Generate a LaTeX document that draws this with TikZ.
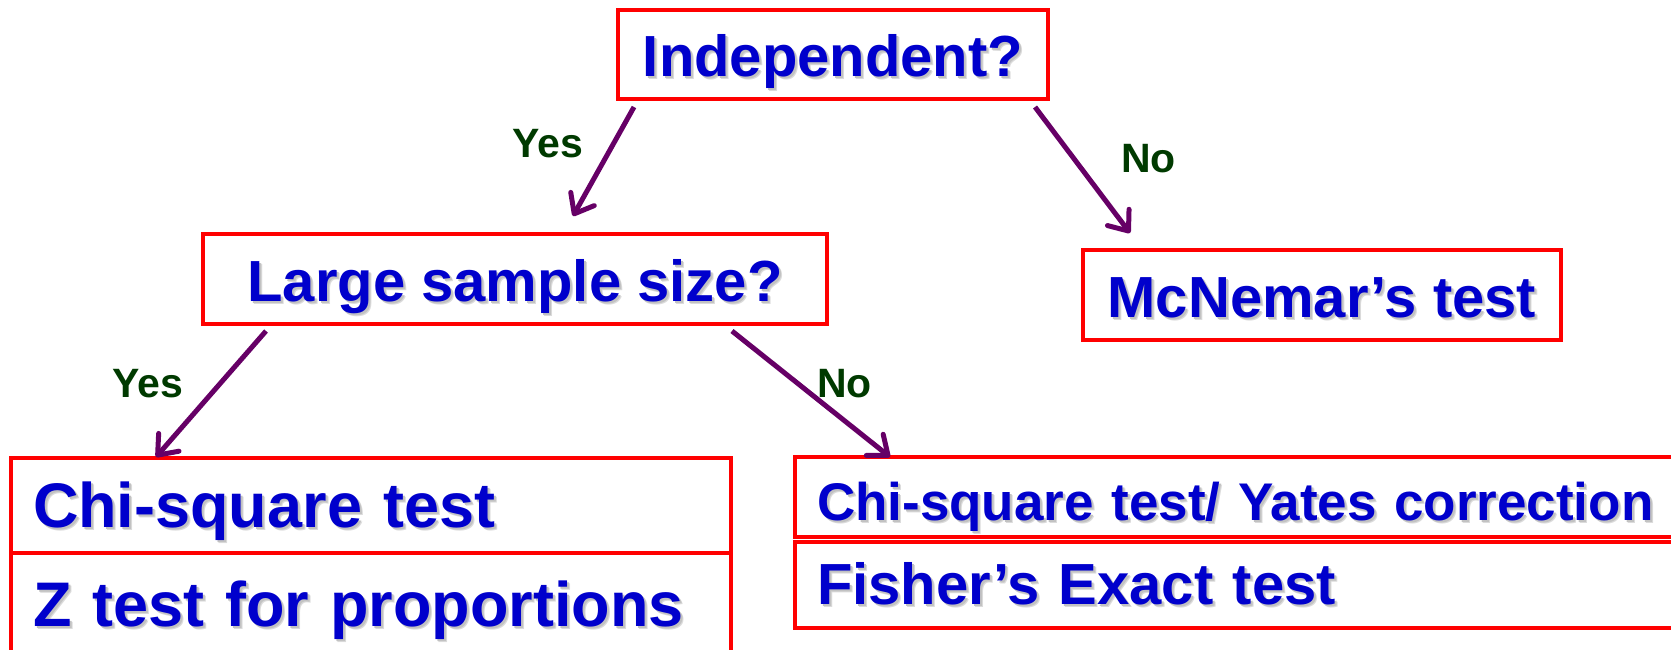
\documentclass[tikz,border=0pt]{standalone}
\usepackage{fontspec}
\setmainfont{Liberation Sans}
\usetikzlibrary{arrows.meta,calc}
\definecolor{boxred}{RGB}{255,0,0}
\definecolor{txtblue}{RGB}{0,0,204}
\definecolor{lblgreen}{RGB}{0,58,0}
\definecolor{arrpurple}{RGB}{102,0,102}
% blue text with a soft grey drop shadow
\newcommand\shtext[1]{%
  \rlap{\kern3pt\raisebox{-3pt}{\textcolor{black!14}{#1}}}%
  \rlap{\kern2pt\raisebox{-2pt}{\textcolor{black!24}{#1}}}%
  \textcolor{txtblue}{#1}}
\begin{document}
\begin{tikzpicture}[x=1pt,y=-1pt,
  box/.style={draw=boxred, line width=4.5pt, outer sep=0pt, inner xsep=0pt, inner ysep=0pt,
    text depth=0pt, font=\bfseries\fontsize{58}{62}\selectfont},
  leftbox/.style={box, anchor=north west, align=left, inner xsep=22pt},
  lab/.style={text=lblgreen, inner sep=0pt, anchor=base west, font=\bfseries\fontsize{41}{44}\selectfont},
  conn/.style={draw=arrpurple, line width=5pt,
    -{Straight Barb[length=17pt,width=27pt,line cap=round,line join=round]}}]
\useasboundingbox (0,0) rectangle (1671,649);
\clip (0,0) rectangle (1671,649);

% question boxes
\node[box, minimum width=430pt, minimum height=89pt, text height=43pt] (indep) at (833,54.5) {\shtext{Independent?}};
\node[box, minimum width=624pt, minimum height=90pt, text height=44pt] (large) at (515,279) {\shtext{Large sample size?}};
\node[box, minimum width=478pt, minimum height=90pt, text height=44pt] (mcn) at (1322,295) {\shtext{McNemar’s test}};

% result boxes, large samples
\node[leftbox, minimum width=720pt, minimum height=95pt, text width=676pt, text height=43pt,
  font=\bfseries\fontsize{63}{66}\selectfont] (lchi) at (11,458) {\shtext{Chi-square test}};
\node[leftbox, minimum width=720pt, minimum height=120pt, text width=676pt, text height=26pt,
  font=\bfseries\fontsize{63}{66}\selectfont] (lz) at (11,553) {\shtext{Z test for proportions}};

% result boxes, small samples
\node[leftbox, minimum width=895pt, minimum height=80pt, text width=851pt, text height=46pt,
  font=\bfseries\fontsize{53}{56}\selectfont] (ryates) at (795,457) {\shtext{Chi-square test/ Yates correction}};
\node[leftbox, minimum width=895pt, minimum height=86pt, text width=851pt, text height=38pt] (rfisher) at (795,542) {\shtext{Fisher’s Exact test}};

% connectors
\draw[conn] ($(indep.south west)+(16,8)$) -- ($(large.north)+(58,-18)$);
\draw[conn] ($(indep.south east)+(-13,8)$) -- ($(mcn.north)+(-192,-17)$);
\draw[conn] ($(large.south west)+(63,7)$) -- ($(lchi.north west)+(145,-1)$);
\draw[conn] ($(large.south east)+(-95,7)$) -- ($(ryates.north west)+(95,0)$);

% branch labels
\node[lab] (yes1) at (512,157) {Yes};
\node[lab] (no1) at (1121,172) {No};
\node[lab] (yes2) at (112,397) {Yes};
\node[lab] (no2) at (817,397) {No};
\end{tikzpicture}
\end{document}
